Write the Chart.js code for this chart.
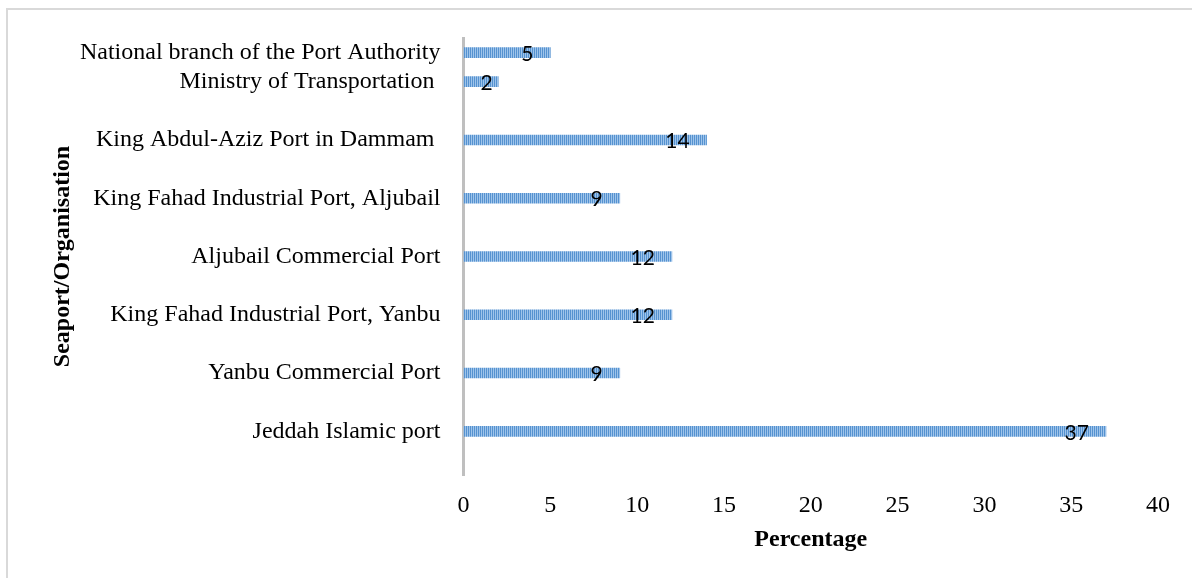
<!DOCTYPE html>
<html>
<head>
<meta charset="utf-8">
<title>Seaport/Organisation</title>
<script src="https://cdn.jsdelivr.net/npm/chart.js@4.4.1/dist/chart.umd.min.js"></script>
<style>
  html, body { margin: 0; padding: 0; background: #fff; }
  #wrap { position: relative; width: 1192px; height: 578px; overflow: hidden; }
  #frame { position: absolute; left: 6px; top: 8px; right: -4px; bottom: -4px;
           border-left: 2px solid #d9d9d9; border-top: 2px solid #d9d9d9; }
  #chart { position: absolute; left: 0; top: 0; }
</style>
</head>
<body>
<div id="wrap">
  <div id="frame"></div>
  <canvas id="chart" width="1192" height="578"></canvas>
</div>
<script>
// categories top -> bottom, blanks are the empty rows of the sheet
const categories = [
  "National branch of the Port Authority",
  "Ministry of Transportation ",
  "",
  "King Abdul-Aziz Port in Dammam ",
  "",
  "King Fahad Industrial Port, Aljubail",
  "",
  "Aljubail Commercial Port",
  "",
  "King Fahad Industrial Port, Yanbu",
  "",
  "Yanbu Commercial Port",
  "",
  "Jeddah Islamic port",
  ""
];
const percentages = [5, 2, null, 14, null, 9, null, 12, null, 12, null, 9, null, 37, null];
const xMin = 0;
const xMax = 40;
const xStep = 5;

(function () {
  const canvas = document.getElementById("chart");
  const ctx = canvas.getContext("2d");

  // striped fill like the Excel pattern
  function stripes() {
    const c = document.createElement("canvas");
    c.width = 2; c.height = 1;
    const g = c.getContext("2d");
    g.fillStyle = "#5592d0"; g.fillRect(0, 0, 1, 1);
    g.fillStyle = "#9fc4ea"; g.fillRect(1, 0, 1, 1);
    return ctx.createPattern(c, "repeat");
  }

  const serif = "'Liberation Serif', 'Times New Roman', serif";

  // value labels, inside end of each bar
  const valueLabels = {
    id: "valueLabels",
    afterDatasetsDraw(chart) {
      const meta = chart.getDatasetMeta(0);
      const c = chart.ctx;
      c.save();
      c.font = "21px Lato, 'Liberation Sans', sans-serif";
      c.fillStyle = "#000";
      c.textBaseline = "middle";
      c.textAlign = "left";
      meta.data.forEach((bar, i) => {
        const v = percentages[i];
        if (v == null) return;
        const txt = String(v);
        const w = c.measureText(txt).width;
        let left = bar.x - 17 - w;
        if (left < bar.base + 17) left = bar.base + 17;
        c.fillText(txt, left, bar.y + 1.5);
      });
      c.restore();
    }
  };

  new Chart(canvas, {
    type: "bar",
    data: {
      labels: categories,
      datasets: [{
        data: percentages,
        backgroundColor: stripes(),
        borderWidth: 0,
        barThickness: 10
      }]
    },
    options: {
      indexAxis: "y",
      responsive: false,
      animation: false,
      devicePixelRatio: 1,
      layout: { padding: { top: 38, right: 34, bottom: 0, left: 0 } },
      plugins: { legend: { display: false }, tooltip: { enabled: false } },
      scales: {
        x: {
          min: xMin, max: xMax,
          ticks: { stepSize: xStep, font: { family: serif, size: 24 }, color: "#000", padding: 16 },
          grid: { display: false, drawTicks: false },
          border: { display: false },
          title: { display: true, text: "Percentage", color: "#000",
                   font: { family: serif, size: 24, weight: "bold" }, padding: { top: 0, bottom: 24 } },
          afterFit: (s) => { s.height = 103; }
        },
        y: {
          z: 1,
          grid: { display: false, drawTicks: false },
          border: { display: true, color: "#bfbfbf", width: 3 },
          ticks: { autoSkip: false, font: { family: serif, size: 24 }, color: "#000", padding: 23 },
          title: { display: true, text: "Seaport/Organisation", color: "#000",
                   font: { family: serif, size: 24, weight: "bold" }, padding: { top: 48, bottom: 0 } },
          afterFit: (s) => { s.width = 463.5; }
        }
      }
    },
    plugins: [valueLabels]
  });
})();
</script>
</body>
</html>
